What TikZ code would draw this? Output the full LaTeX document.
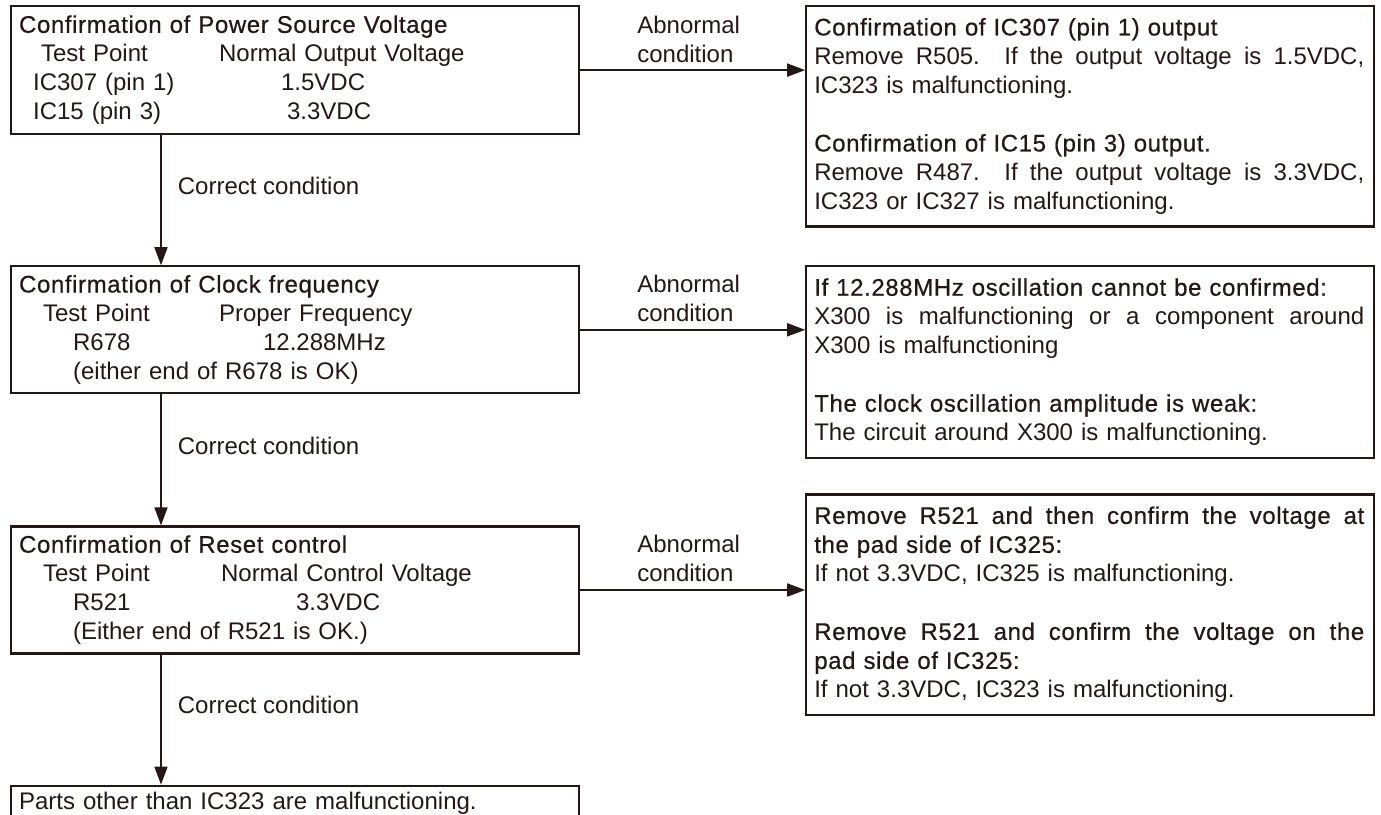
\documentclass[tikz,border=0pt]{standalone}
\usepackage{fontspec}
\setmainfont{Liberation Sans}
\newfontfamily\headfont{Liberation Sans}[FakeBold=0.6,LetterSpace=2.5]
\usetikzlibrary{positioning,arrows.meta}
\definecolor{ink}{HTML}{231815}
\newcommand\tp[4]{\leavevmode\rlap{\hspace*{#1}#2}\rlap{\hspace*{#3}#4}}
\newcommand\fl[1]{{\spaceskip=0.28em plus 3em\relax\makebox[275pt][s]{#1}}}

\begin{document}
\begin{tikzpicture}[x=0.5pt,y=-0.5pt,
  every node/.style={text=ink, font=\fontsize{12}{14.5}\selectfont},
  chkbox/.style={draw=ink, line width=1.1pt, rectangle, text width=276pt, inner xsep=4pt, align=left},
  lbox/.style={chkbox, minimum height=63.5pt},
  rbox/.style={chkbox, inner ysep=6pt, anchor=north west},
  arr/.style={draw=ink, line width=0.85pt, -{Triangle[length=9pt,width=6.5pt]}},
  abn/.style={above=3.5pt, xshift=-2pt, inner sep=0pt, align=left},
  cond/.style={anchor=west, inner sep=0pt, xshift=8pt, pos=0.39},
  node distance=65pt]
	\useasboundingbox (0,0) rectangle (1381,814);

	\node[lbox, anchor=north west, minimum height=64pt] (pwr) at (10,5) {%
	  {\headfont Confirmation of Power Source Voltage}\\
	  \tp{11pt}{Test Point}{100pt}{Normal Output Voltage}\\
	  \tp{7pt}{IC307 (pin 1)}{131pt}{1.5VDC}\\
	  \tp{7pt}{IC15 (pin 3)}{134pt}{3.3VDC}};
	\node[lbox, below=65pt of pwr] (clk) {%
	  {\headfont Confirmation of Clock frequency}\\
	  \tp{12pt}{Test Point}{100pt}{Proper Frequency}\\
	  \tp{27pt}{R678}{122pt}{12.288MHz}\\
	  \tp{27pt}{(either end of R678 is OK)}{0pt}{}};
	\node[lbox, below=65.5pt of clk] (rst) {%
	  {\headfont Confirmation of Reset control}\\
	  \tp{12pt}{Test Point}{101pt}{Normal Control Voltage}\\
	  \tp{27pt}{R521}{138.5pt}{3.3VDC}\\
	  \tp{27pt}{(Either end of R521 is OK.)}{0pt}{}};
	\node[chkbox, below=65pt of rst, minimum height=18pt] (res) {Parts other than IC323 are malfunctioning.};

	\node[rbox] (vchk) at ([xshift=112.5pt]pwr.north east) {%
	  {\headfont Confirmation of IC307 (pin 1) output}\\
	  \fl{Remove R505.\ \ If the output voltage is 1.5VDC,}\\
	  IC323 is malfunctioning.\\[14.5pt]
	  {\headfont Confirmation of IC15 (pin 3) output.}\\
	  \fl{Remove R487.\ \ If the output voltage is 3.3VDC,}\\
	  IC323 or IC327 is malfunctioning.};
	\node[rbox] (xchk) at ([xshift=112.5pt]clk.north east) {%
	  {\headfont If 12.288MHz oscillation cannot be confirmed:}\\
	  \fl{X300 is malfunctioning or a component around}\\
	  X300 is malfunctioning\\[14.5pt]
	  {\headfont The clock oscillation amplitude is weak:}\\
	  The circuit around X300 is malfunctioning.};
	\node[rbox] (rchk) at ([xshift=112.5pt,yshift=16pt]rst.north east) {%
	  {\headfont\fl{Remove R521 and then confirm the voltage at}}\\
	  {\headfont the pad side of IC325:}\\
	  If not 3.3VDC, IC325 is malfunctioning.\\[14.5pt]
	  {\headfont\fl{Remove R521 and confirm the voltage on the}}\\
	  {\headfont pad side of IC325:}\\
	  If not 3.3VDC, IC323 is malfunctioning.};

	\foreach \a/\b in {pwr/vchk,clk/xchk,rst/rchk}{
	  \draw[arr] (\a.east) -- node[abn] (abn\a) {Abnormal\\condition} (\a.east -| \b.west);
	}
	\foreach \a/\b in {pwr/clk,clk/rst,rst/res}{
	  \draw[arr] ([xshift=75.5pt]\a.south west) -- node[cond] (ok\a) {Correct condition} ([xshift=75.5pt]\b.north west);
	}
\end{tikzpicture}
\end{document}
